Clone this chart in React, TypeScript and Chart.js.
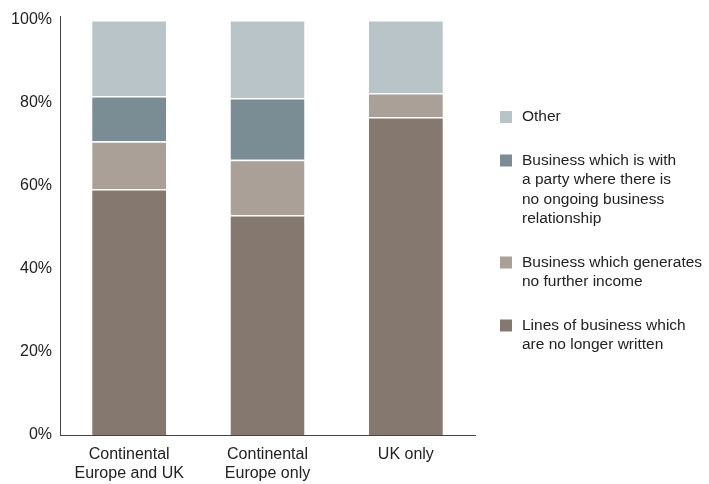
import React, { useEffect, useRef } from "react";
import { Chart, registerables } from "chart.js";

Chart.register(...registerables);

const categories: string[][] = [
  ["Continental", "Europe and UK"],
  ["Continental", "Europe only"],
  ["UK only"],
];

const seriesNames = [
  "Lines of business which are no longer written",
  "Business which generates no further income",
  "Business which is with a party where there is no ongoing business relationship",
  "Other",
];

const linesNoLongerWritten = [59.3, 53.0, 76.6];
const noFurtherIncome = [11.5, 13.3, 5.8];
const noOngoingRelationship = [10.9, 14.9, 0];
const other = [18.3, 18.8, 17.6];

const seriesColors = ["#85786E", "#AAA097", "#7A8C94", "#B9C4C8"];

const legendLines: string[][] = [
  ["Lines of business which", "are no longer written"],
  ["Business which generates", "no further income"],
  ["Business which is with", "a party where there is", "no ongoing business", "relationship"],
  ["Other"],
];

const yTicks = [0, 20, 40, 60, 80, 100];

const FONT = "'Liberation Sans', Arial, Helvetica, sans-serif";

const legendPlugin = {
  id: "sideLegend",
  afterDraw(chart: any) {
    const ctx = chart.ctx;
    ctx.save();
    ctx.font = `15.5px ${FONT}`;
    ctx.textBaseline = "middle";
    ctx.textAlign = "left";
    const lineH = 19.5;
    const groupGap = 24;
    let y = 117;
    const n = chart.data.datasets.length;
    for (let i = n - 1; i >= 0; i--) {
      const ds = chart.data.datasets[i];
      const lines = legendLines[i];
      ctx.fillStyle = ds.backgroundColor;
      ctx.fillRect(500, y - 6, 12, 12);
      ctx.fillStyle = "#222222";
      lines.forEach((t: string, k: number) => {
        ctx.fillText(t, 522, y + k * lineH);
      });
      y += lines.length * lineH + groupGap;
    }
    // slight extension of the y axis line above the plot
    const a = chart.chartArea;
    ctx.strokeStyle = "#444444";
    ctx.lineWidth = 1;
    ctx.beginPath();
    ctx.moveTo(a.left + 0.5, a.top);
    ctx.lineTo(a.left + 0.5, a.top - 4);
    ctx.stroke();
    ctx.restore();
  },
};

export default function App() {
  const ref = useRef<HTMLCanvasElement>(null);
  useEffect(() => {
    if (!ref.current) return;
    const values = [linesNoLongerWritten, noFurtherIncome, noOngoingRelationship, other];
    const chart = new Chart(ref.current, {
      type: "bar",
      data: {
        labels: categories,
        datasets: values.map((v, i) => ({
          label: seriesNames[i],
          data: v,
          backgroundColor: seriesColors[i],
          borderColor: "#ffffff",
          borderWidth: { top: 1.5, bottom: 0, left: 0, right: 0 },
          borderSkipped: false,
          categoryPercentage: 1,
          barPercentage: 0.535,
        })),
      },
      options: {
        animation: false,
        responsive: false,
        maintainAspectRatio: false,
        layout: { padding: { top: 20, right: 234, bottom: 0, left: 0 } },
        plugins: {
          legend: { display: false },
          tooltip: { enabled: false },
        },
        scales: {
          x: {
            stacked: true,
            grid: { display: false, drawTicks: false },
            border: { display: true, color: "#444444", width: 1 },
            ticks: {
              color: "#222222",
              font: { family: FONT, size: 16, lineHeight: 1.2 },
              padding: 10,
              maxRotation: 0,
              autoSkip: false,
            },
            afterFit: (s: any) => {
              s.height = 49;
            },
          },
          y: {
            stacked: true,
            min: 0,
            max: 100,
            grid: { display: false, drawTicks: false },
            border: { display: true, color: "#444444", width: 1 },
            afterBuildTicks: (s: any) => {
              s.ticks = yTicks.map((v) => ({ value: v }));
            },
            ticks: {
              color: "#222222",
              font: { family: FONT, size: 16 },
              padding: 8,
              callback: (v: any) => `${v}%`,
            },
            afterFit: (s: any) => {
              s.width = 60;
            },
          },
        },
      },
      plugins: [legendPlugin],
    });
    return () => chart.destroy();
  }, []);
  return (
    <div style={{ position: "fixed", left: 0, top: 0, width: 709, height: 484, background: "#fff" }}>
      <canvas ref={ref} width={709} height={484} style={{ width: 709, height: 484 }} />
    </div>
  );
}
